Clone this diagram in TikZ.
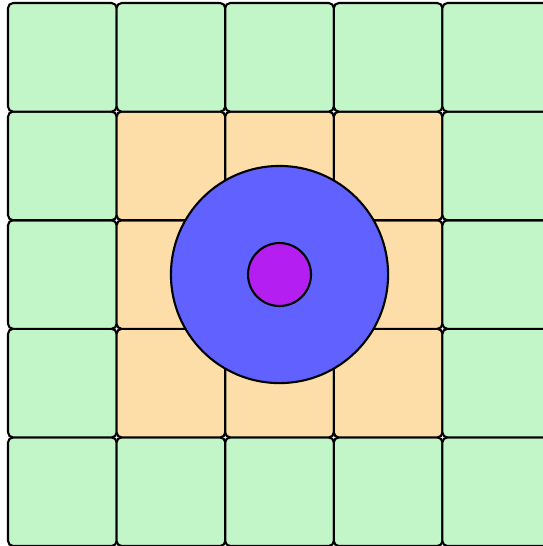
\documentclass[tikz,border=0pt]{standalone}
\usepackage{tikz}
\usetikzlibrary{positioning}

\definecolor{cellgreen}{RGB}{194,245,200}
\definecolor{cellorange}{RGB}{253,222,168}
\definecolor{ringblue}{RGB}{97,97,255}
\definecolor{dotpurple}{RGB}{181,30,240}

\begin{document}
\begin{tikzpicture}[
        x = 1cm, y = 1cm,
        line width = 0.55pt, % line style
        cell/.style = {draw, rounded corners = 1.3pt, minimum size = 1cm, inner sep = 0pt},
        disc/.style = {draw, circle, inner sep = 0pt}
        ]

  % picture size, cut on the right and bottom
  \useasboundingbox (-0.074,0) rectangle (4.926,5.028);

  % the 5x5 grid
  \foreach \i in {0,...,4} {
    \foreach \j in {0,...,4} {
      \pgfmathtruncatemacro{\inner}{and(and(\i>0,\i<4),and(\j>0,\j<4))}
      \ifnum\inner=1
        \node[cell, fill=cellorange] (c-\i-\j) at (\i+0.5,\j+0.5) {};
      \else
        \node[cell, fill=cellgreen] (c-\i-\j) at (\i+0.5,\j+0.5) {};
      \fi
    }
  }

  % the two circles in the middle
  \node[disc, fill=ringblue, minimum size = 2cm] (ring) at (c-2-2.center) {};
  \node[disc, fill=dotpurple, minimum size = 0.58cm] (dot) at (ring.center) {};

\end{tikzpicture}
\end{document}
